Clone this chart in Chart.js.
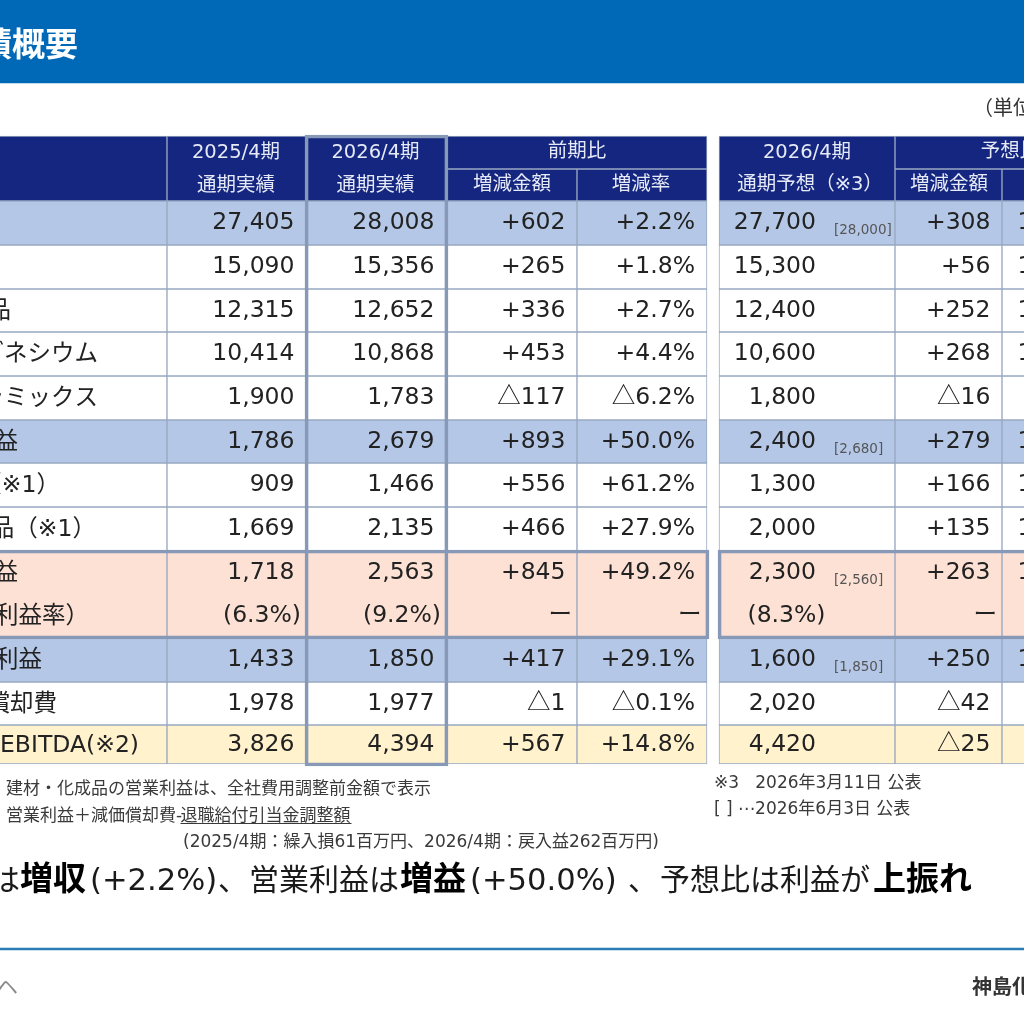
<!DOCTYPE html>
<html lang="ja">
<head>
  <meta charset="UTF-8" />
  <title>業績概要</title>
  <script src="https://cdn.jsdelivr.net/npm/chart.js"></script>
  <style>
    html, body { margin: 0; padding: 0; background: #fff; }
    #wrap { width: 1024px; height: 1024px; overflow: hidden; }
  </style>
</head>
<body>
  <div id="wrap"><canvas id="sheet"></canvas></div>

  <script>
    // Table contents, one list per column
    const rowLabels = ['売上高','建材','化成品','マグネシウム','セラミックス','営業利益','建材\uFF08※1\uFF09','化成品\uFF08※1\uFF09','調整後営業利益','\uFF08調整後営業利益率\uFF09','親会社株主に帰属する当期純利益','減価償却費','調整後EBITDA(※2)'];
    const actual2025 = ['27,405','15,090','12,315','10,414','1,900','1,786','909','1,669','1,718','(6.3%)','1,433','1,978','3,826'];
    const actual2026 = ['28,008','15,356','12,652','10,868','1,783','2,679','1,466','2,135','2,563','(9.2%)','1,850','1,977','4,394'];
    const yoyAmount = ['+602','+265','+336','+453','△117','+893','+556','+466','+845','ー','+417','△1','+567'];
    const yoyRate = ['+2.2%','+1.8%','+2.7%','+4.4%','△6.2%','+50.0%','+61.2%','+27.9%','+49.2%','ー','+29.1%','△0.1%','+14.8%'];
    const forecast2026 = ['27,700','15,300','12,400','10,600','1,800','2,400','1,300','2,000','2,300','(8.3%)','1,600','2,020','4,420'];
    const revisedForecast = ['[28,000]','','','','','[2,680]','','','[2,560]','','[1,850]','',''];
    const vsForecastAmount = ['+308','+56','+252','+268','△16','+279','+166','+135','+263','ー','+250','△42','△25'];
    const vsForecastRate = ['101.1%','100.4%','102.0%','102.5%','99.1%','111.6%','112.8%','106.8%','111.4%','ー','115.6%','97.9%','99.4%'];

    // Grid layout on the sheet scales
    const columnEdges = [-20, 167, 306, 447, 577, 707, 719, 895, 1002, 1140];
    const rowEdges = [201, 245, 289, 332, 376, 420, 463, 507, 551, 594, 638, 682, 725, 764];
    const labelEnds = [-5, -5, 11, 98, 98, 18, 60, 96, 18, 89, 42, 57, 139];
    const rateRow = 9;

    const NAVY = '#14267f', BLUE = '#b4c7e7', PEACH = '#fce1d4', CREAM = '#fff2cc', WHITE = '#ffffff';
    const LINE = '#98a8c2', FRAME = '#8799b6';
    const LATIN = '"DejaVu Sans","Noto Sans CJK JP",sans-serif';
    const JP = '"Noto Sans CJK JP",sans-serif';

    const bodyFills = [BLUE, WHITE, WHITE, WHITE, WHITE, BLUE, WHITE, WHITE, PEACH, PEACH, BLUE, WHITE, CREAM];
    const textColumns = [
      { values: actual2025, right: 294.5, rateShift: 6.5 },
      { values: actual2026, right: 434.5, rateShift: 6.5 },
      { values: yoyAmount, right: 565.5, rateShift: 6.5 },
      { values: yoyRate, right: 695, rateShift: 6.5 },
      { values: forecast2026, right: 816, rateShift: 9.5 },
      { values: vsForecastAmount, right: 990.5, rateShift: 6.5 },
      { values: vsForecastRate, right: 1107, rateShift: 6.5 }
    ];

    const headerTexts = [
      ['2025/4期', 236, 158], ['通期実績', 236, 191],
      ['2026/4期', 375.5, 158], ['通期実績', 375.5, 191],
      ['前期比', 577, 157], ['増減金額', 512, 190], ['増減率', 641, 190],
      ['2026/4期', 807, 158], ['通期予想\uFF08※3\uFF09', 810, 190],
      ['予想比', 1010, 157], ['増減金額', 949, 190], ['達成率', 1061, 190]
    ];
    const noteTexts = [
      ['建材・化成品の営業利益は、全社費用調整前金額で表示', 6, 794, 17],
      ['営業利益\uFF0B減価償却費-', 6, 821, 17],
      ['退職給付引当金調整額', 180.5, 821, 17],
      ['(2025/4期\uFF1A繰入損61百万円、2026/4期\uFF1A戻入益262百万円)', 183, 847, 17],
      ['※3   2026年3月11日 公表', 714, 788, 17],
      ['[ ] ⋯2026年6月3日 公表', 714, 814, 17]
    ];
    const summaryRuns = [
      ['は', -10, false], ['増収', 20, true], ['(+2.2%)', 90, false], ['、', 218, false],
      ['営業利益は', 249, false], ['増益', 400, true], ['(+50.0%)', 470, false], ['、', 628, false],
      ['予想比は利益が', 660, false], ['上振れ', 873, true]
    ];

    // One floating bar per cell, x is the cell span and y its centre
    function band(spans, top, bottom, fill, line, width) {
      return {
        data: spans.map(s => ({ x: s, y: (top + bottom) / 2 })),
        barThickness: bottom - top,
        backgroundColor: fill,
        borderColor: line || fill,
        borderWidth: width || 0,
        borderSkipped: false,
        grouped: false
      };
    }

    const c = columnEdges;
    const bodySpans = [[c[0],c[1]],[c[1],c[2]],[c[2],c[3]],[c[3],c[4]],[c[4],c[5]],[c[6],c[7]],[c[7],c[8]],[c[8],c[9]]];
    const datasets = [
      // frames go first so they end up on top
      band([[305, 448]], 135, 766, 'transparent', FRAME, 3),
      band([[c[0], 709], [718, c[9]]], 550, 639, 'transparent', FRAME, 3),
      band([[c[0], 1044]], 0, 83, '#0069b7'),
      band([[c[0], 1044]], 948, 950, '#2a7db5'),
      band([[c[0],c[1]],[c[1],c[2]],[c[2],c[3]],[c[6],c[7]]], 136, 201, NAVY, LINE, 1),
      band([[c[3],c[5]],[c[7],c[9]]], 136, 169, NAVY, LINE, 1),
      band([[c[3],c[4]],[c[4],c[5]],[c[7],c[8]],[c[8],c[9]]], 169, 201, NAVY, LINE, 1)
    ];
    rowEdges.slice(0, -1).forEach((top, i) => {
      if (i === rateRow) return;
      const bottom = i === rateRow - 1 ? rowEdges[i + 2] : rowEdges[i + 1];
      datasets.push(band(bodySpans, top, bottom, bodyFills[i], LINE, 1));
    });

    function put(ctx, text, x, y, font, color, align) {
      ctx.font = font;
      ctx.fillStyle = color;
      ctx.textAlign = align || 'left';
      ctx.textBaseline = 'alphabetic';
      ctx.fillText(text, x, y);
    }

    // The triangle needs the full width Japanese glyph
    function putValue(ctx, text, x, y, size, color) {
      const font = `${size}px ${LATIN}`;
      if (text[0] === '△') {
        const rest = text.slice(1);
        ctx.font = font;
        const w = ctx.measureText(rest).width;
        put(ctx, rest, x, y, font, color, 'right');
        put(ctx, '△', x - w, y, `${size}px ${JP}`, color, 'right');
      } else {
        put(ctx, text, x, y, font, color, 'right');
      }
    }

    const tableText = {
      id: 'tableText',
      afterDatasetsDraw(chart) {
        const { ctx, scales: { x, y } } = chart;
        const px = v => x.getPixelForValue(v), py = v => y.getPixelForValue(v);
        const INK = '#222222';
        ctx.save();

        put(ctx, '績概要', px(78), py(56), `bold 33px ${JP}`, '#ffffff', 'right');
        put(ctx, '\uFF08単位\uFF1A百万円\uFF09', px(973), py(115), `20px ${JP}`, '#333333');

        headerTexts.forEach(([t, hx, hy]) => put(ctx, t, px(hx), py(hy), `19.5px ${LATIN}`, '#e6eaf6', 'center'));

        rowLabels.forEach((label, i) => {
          const base = (rowEdges[i] + rowEdges[i + 1]) / 2 + 6;
          put(ctx, label, px(labelEnds[i]), py(base + 1), `23.5px ${LATIN}`, INK, 'right');
          textColumns.forEach(col => {
            const right = col.right + (i === rateRow ? col.rateShift : 0);
            putValue(ctx, col.values[i], px(right), py(base), 23.5, INK);
          });
          if (revisedForecast[i]) {
            put(ctx, revisedForecast[i], px(834), py(rowEdges[i] + 33), `13.5px ${LATIN}`, '#555555');
          }
        });

        noteTexts.forEach(([t, nx, ny, size]) => put(ctx, t, px(nx), py(ny), `${size}px ${LATIN}`, '#3a3a3a'));
        ctx.fillStyle = '#3a3a3a';
        ctx.fillRect(px(180.5), py(823), 171, 1);

        summaryRuns.forEach(([t, sx, bold]) => {
          const font = bold ? `bold 33px ${JP}` : `${t[0] === '(' ? 30.6 : 30}px ${LATIN}`;
          put(ctx, t, px(sx), py(890), font, bold ? '#000000' : '#1a1a1a');
        });

        put(ctx, 'ヘ', px(-3), py(994), `21px ${JP}`, '#8a8a8a');
        put(ctx, '神島化学工業株式会社', px(972), py(994), `bold 20px ${JP}`, '#333333');
        ctx.restore();
      }
    };

    new Chart(document.getElementById('sheet'), {
      type: 'bar',
      data: { datasets },
      plugins: [tableText],
      options: {
        indexAxis: 'y',
        responsive: true,
        maintainAspectRatio: false,
        animation: false,
        events: [],
        layout: { padding: 0 },
        plugins: { legend: { display: false }, tooltip: { enabled: false } },
        scales: {
          x: { type: 'linear', min: 0, max: 1024, display: false },
          y: { type: 'linear', min: 0, max: 1024, reverse: true, offset: false, display: false }
        }
      }
    });
  </script>
</body>
</html>
